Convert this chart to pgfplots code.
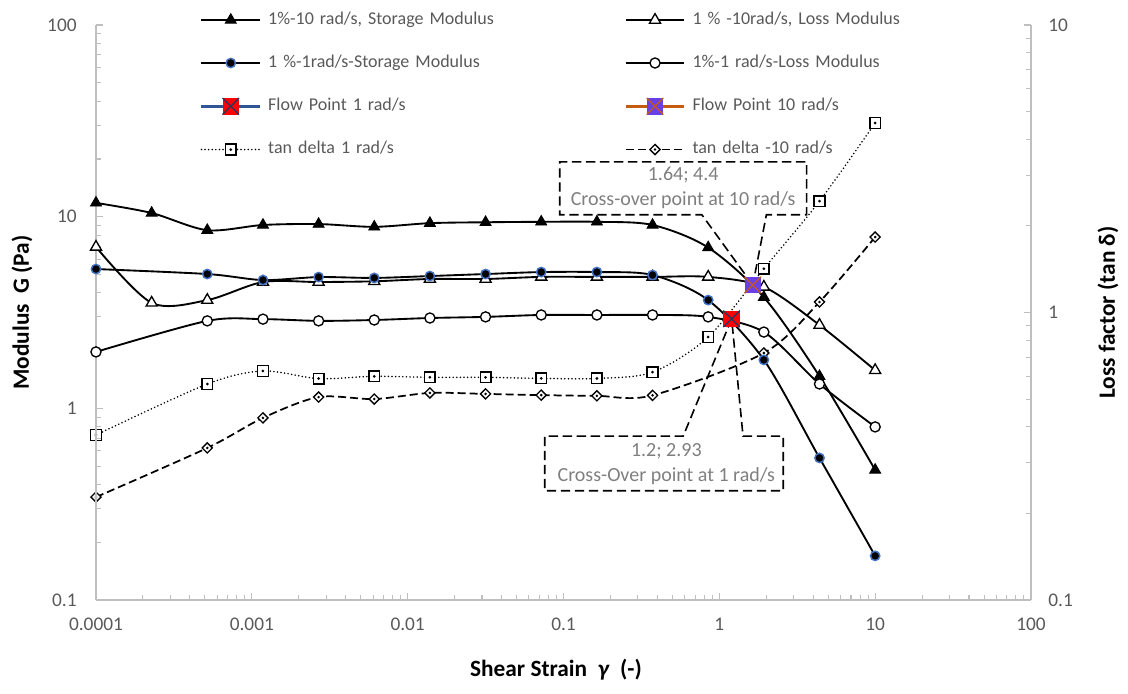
\documentclass[border=0pt]{standalone}
\usepackage{fontspec}
\setmainfont{Carlito}
\usepackage{pgfplots}
\pgfplotsset{compat=1.18}
\definecolor{axgray}{HTML}{BFBFBF}
\definecolor{txtgray}{HTML}{595959}
\definecolor{calgray}{HTML}{7F7F7F}
\definecolor{msblue}{HTML}{4472C4}
\definecolor{fpblue}{HTML}{2F5597}
\definecolor{fpnavy}{HTML}{1F3864}
\definecolor{fpbrown}{HTML}{C55A11}
\definecolor{fppurple}{HTML}{6A3FE8}

\pgfdeclareplotmark{sqx}{%
  \pgfpathrectangle{\pgfqpoint{-\pgfplotmarksize}{-\pgfplotmarksize}}{\pgfqpoint{2\pgfplotmarksize}{2\pgfplotmarksize}}%
  \pgfusepathqfill
  \pgfpathmoveto{\pgfqpoint{-\pgfplotmarksize}{-\pgfplotmarksize}}%
  \pgfpathlineto{\pgfqpoint{\pgfplotmarksize}{\pgfplotmarksize}}%
  \pgfpathmoveto{\pgfqpoint{-\pgfplotmarksize}{\pgfplotmarksize}}%
  \pgfpathlineto{\pgfqpoint{\pgfplotmarksize}{-\pgfplotmarksize}}%
  \pgfusepathqstroke
}
\pgfdeclareplotmark{sqdot}{%
  \pgfpathrectangle{\pgfqpoint{-\pgfplotmarksize}{-\pgfplotmarksize}}{\pgfqpoint{2\pgfplotmarksize}{2\pgfplotmarksize}}%
  \pgfusepathqfillstroke
  \pgfpathcircle{\pgfpointorigin}{0.35pt}\pgfusepathqstroke
}
\pgfdeclareplotmark{diadot}{%
  \pgfpathmoveto{\pgfqpoint{0pt}{\pgfplotmarksize}}%
  \pgfpathlineto{\pgfqpoint{\pgfplotmarksize}{0pt}}%
  \pgfpathlineto{\pgfqpoint{0pt}{-\pgfplotmarksize}}%
  \pgfpathlineto{\pgfqpoint{-\pgfplotmarksize}{0pt}}%
  \pgfpathclose
  \pgfusepathqfillstroke
  \pgfpathcircle{\pgfpointorigin}{0.35pt}\pgfusepathqstroke
}

\tikzset{
  sA/.style={black, line width=1.4pt, smooth, mark=triangle*, mark size=4.8pt, mark options={solid, fill=black, line width=0.6pt}},
  lA/.style={black, line width=1.4pt, smooth, mark=triangle*, mark size=4.8pt, mark options={solid, fill=white, line width=1pt}},
  sB/.style={black, line width=1.4pt, smooth, mark=*, mark size=3.5pt, mark options={solid, fill=black, draw=msblue, line width=1.1pt}},
  lB/.style={black, line width=1.4pt, smooth, mark=*, mark size=3.8pt, mark options={solid, fill=white, draw=black, line width=1pt}},
  tB/.style={black, line width=1.3pt, line cap=round, dash pattern=on 0pt off 2.7pt, smooth, mark=sqdot, mark size=4pt, mark options={solid, fill=white, line width=1.1pt, line cap=butt}},
  tA/.style={black, line width=1.3pt, dash pattern=on 6pt off 3pt, smooth, mark=diadot, mark size=3.8pt, mark options={solid, fill=white, line width=1pt}},
  fB/.style={fpblue, line width=2.2pt, mark=sqx, mark size=6.2pt, mark options={solid, fill=red, draw=fpnavy, line width=0.9pt}},
  fA/.style={fpbrown, line width=2.2pt, mark=sqx, mark size=6.2pt, mark options={solid, fill=fppurple, draw=fpbrown, line width=0.9pt}},
  callout/.style={draw=black, line width=1.2pt, dash pattern=on 7pt off 3.5pt},
}

\begin{document}
\begin{tikzpicture}
\path[use as bounding box] (0,0) rectangle (846pt,519.75pt);

% right axis: loss factor
\begin{axis}[
  at={(72pt,69.75pt)}, anchor=south west,
  scale only axis, width=701.25pt, height=431.25pt,
  xmode=log, ymode=log, xmin=1e-4, xmax=100,
  ymin=0.1, ymax=10,
  axis y line*=right, axis x line=none,
  axis line style={-, draw=axgray, line width=1pt},
  tick style={draw=axgray, line width=0.8pt},
  tick align=inside, major tick length=5pt, minor tick length=3.5pt,
  tick label style={font=\fontsize{14.5}{17}\selectfont, text=txtgray},
  ytick={0.1,1,10}, yticklabels={0.1,1,10},
  minor ytick={0.2,0.3,0.4,0.5,0.6,0.7,0.8,0.9,2,3,4,5,6,7,8,9},
  yticklabel style={xshift=9.5pt},
  ylabel={Loss factor (tan δ)},
  every axis y label/.style={at={(axis description cs:1.0824,0.5)}, rotate=90, anchor=center, font=\fontsize{17.5}{21}\selectfont\bfseries, text=black},
]
\addplot[tB] coordinates {(1e-4,0.375) (5.179e-4,0.564) (1.179e-3,0.626) (2.683e-3,0.589) (6.105e-3,0.60) (1.389e-2,0.595) (3.162e-2,0.595) (7.197e-2,0.59) (0.1638,0.59) (0.3728,0.62) (0.8483,0.822) (1.931,1.42) (4.394,2.44) (10,4.56)};
\addplot[tA] coordinates {(1e-4,0.228) (5.179e-4,0.338) (1.179e-3,0.43) (2.683e-3,0.508) (6.105e-3,0.50) (1.389e-2,0.525) (3.162e-2,0.521) (7.197e-2,0.516) (0.1638,0.513) (0.3728,0.515) (1.931,0.723) (4.394,1.088) (10,1.83)};
\end{axis}

% left axis: modulus
\begin{axis}[
  at={(72pt,69.75pt)}, anchor=south west,
  scale only axis, width=701.25pt, height=431.25pt,
  xmode=log, ymode=log, xmin=1e-4, xmax=100,
  ymin=0.1, ymax=100,
  axis x line*=bottom, axis y line*=left,
  axis line style={-, draw=axgray, line width=1pt},
  tick style={draw=axgray, line width=0.8pt},
  tick align=inside, major tick length=5pt, minor tick length=3.5pt,
  tick label style={font=\fontsize{14.5}{17}\selectfont, text=txtgray},
  xtick={1e-4,1e-3,0.01,0.1,1,10,100}, xticklabels={0.0001,0.001,0.01,0.1,1,10,100},
  minor xtick={2e-4,3e-4,4e-4,5e-4,6e-4,7e-4,8e-4,9e-4,2e-3,3e-3,4e-3,5e-3,6e-3,7e-3,8e-3,9e-3,0.02,0.03,0.04,0.05,0.06,0.07,0.08,0.09,0.2,0.3,0.4,0.5,0.6,0.7,0.8,0.9,2,3,4,5,6,7,8,9,20,30,40,50,60,70,80,90},
  ytick={0.1,1,10,100}, yticklabels={0.1,1,10,100},
  minor ytick={0.2,0.3,0.4,0.5,0.6,0.7,0.8,0.9,2,3,4,5,6,7,8,9,20,30,40,50,60,70,80,90},
  xticklabel style={yshift=-10pt},
  yticklabel style={xshift=-11pt},
  xlabel={Shear Strain\ \ \textit{γ}\ \ (-)},
  ylabel={Modulus\ \ G (Pa)},
  every axis x label/.style={at={(axis description cs:0.492,-0.1217)}, anchor=center, font=\fontsize{17.5}{21}\selectfont\bfseries, text=black},
  every axis y label/.style={at={(axis description cs:-0.0791,0.5)}, rotate=90, anchor=center, font=\fontsize{17.5}{21}\selectfont\bfseries, text=black},
  legend columns=2, legend cell align=left,
  legend image code/.code={\draw[mark repeat=2,mark phase=2] plot coordinates {(0pt,0pt) (22pt,0pt) (44pt,0pt)};},
  legend style={at={(axis description cs:0.1112,1.0226)}, anchor=north west, draw=none, fill=none,
    inner sep=0pt, outer sep=0pt, font=\fontsize{13.5}{16}\selectfont, text=txtgray, row sep=20.25pt,
    cells={anchor=west},
    nodes={inner xsep=0pt, inner ysep=0pt, text height=9pt, text depth=3pt, text width=267pt, align=left},
    /tikz/every odd column/.append style={column sep=5pt}},
]
\addplot[sA] coordinates {(1e-4,11.8) (2.276e-4,10.45) (5.179e-4,8.5) (1.179e-3,9.05) (2.683e-3,9.15) (6.105e-3,8.85) (1.389e-2,9.25) (3.162e-2,9.35) (7.197e-2,9.4) (0.1638,9.4) (0.3728,9.05) (0.8483,6.9) (1.931,3.8) (4.394,1.47) (10,0.477)};
\addlegendentry{1\%-10 rad/s, Storage Modulus}
\addplot[lA] coordinates {(1e-4,6.95) (2.276e-4,3.55) (5.179e-4,3.67) (1.179e-3,4.56) (2.683e-3,4.56) (6.105e-3,4.6) (1.389e-2,4.73) (3.162e-2,4.73) (7.197e-2,4.85) (0.1638,4.85) (0.3728,4.85) (0.8483,4.85) (1.931,4.3) (4.394,2.72) (10,1.58)};
\addlegendentry{1 \% -10rad/s, Loss Modulus}
\addplot[sB] coordinates {(1e-4,5.33) (5.179e-4,5.02) (1.179e-3,4.67) (2.683e-3,4.84) (6.105e-3,4.79) (1.389e-2,4.9) (3.162e-2,5.02) (7.197e-2,5.14) (0.1638,5.14) (0.3728,4.96) (0.8483,3.67) (1.931,1.79) (4.394,0.551) (10,0.17)};
\addlegendentry{1 \%-1rad/s-Storage Modulus}
\addplot[lB] coordinates {(1e-4,1.97) (5.179e-4,2.86) (1.179e-3,2.92) (2.683e-3,2.86) (6.105e-3,2.89) (1.389e-2,2.96) (3.162e-2,3.0) (7.197e-2,3.07) (0.1638,3.07) (0.3728,3.07) (0.8483,3.0) (1.931,2.5) (4.394,1.34) (10,0.8)};
\addlegendentry{1\%-1 rad/s-Loss Modulus}

\draw[callout] (axis cs:1.64,4.4) -- (rel axis cs:0.648,0.670) -- (rel axis cs:0.496,0.670) -- (rel axis cs:0.496,0.762) -- (rel axis cs:0.760,0.762) -- (rel axis cs:0.760,0.670) -- (rel axis cs:0.717,0.670) -- cycle;
\node[font=\fontsize{15}{18.75}\selectfont, text=calgray, align=center] at (rel axis cs:0.628,0.717) {1.64; 4.4\\Cross-over point at 10 rad/s};
\draw[callout] (axis cs:1.2,2.93) -- (rel axis cs:0.628,0.285) -- (rel axis cs:0.480,0.285) -- (rel axis cs:0.480,0.190) -- (rel axis cs:0.735,0.190) -- (rel axis cs:0.735,0.285) -- (rel axis cs:0.692,0.285) -- cycle;
\node[font=\fontsize{15}{18.75}\selectfont, text=calgray, align=center] at (rel axis cs:0.610,0.2365) {1.2; 2.93\\Cross-Over point at 1 rad/s};

\addplot[fB] coordinates {(1.2,2.93)};
\addlegendentry{Flow Point 1 rad/s}
\addplot[fA] coordinates {(1.64,4.4)};
\addlegendentry{Flow Point 10 rad/s}
\addlegendimage{tB}
\addlegendentry{tan delta 1 rad/s}
\addlegendimage{tA}
\addlegendentry{tan delta -10 rad/s}
\end{axis}
\end{tikzpicture}
\end{document}
